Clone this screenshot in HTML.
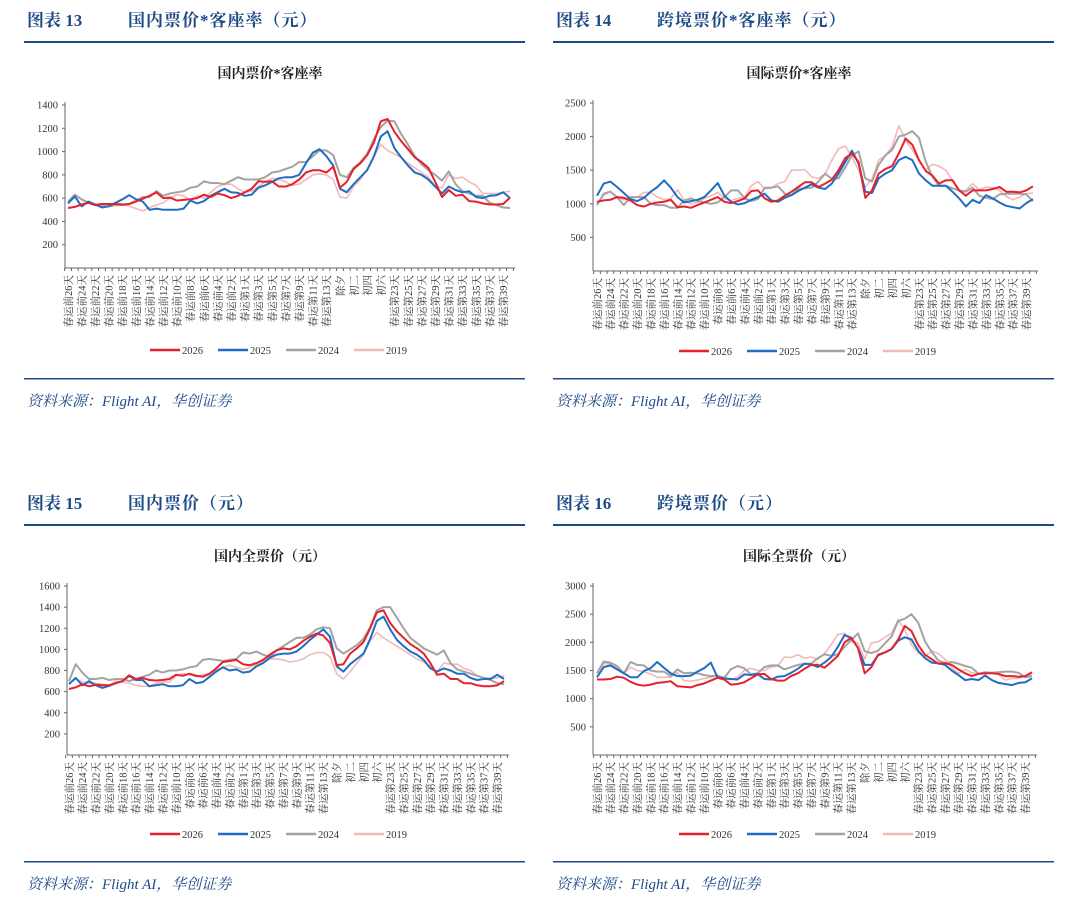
<!DOCTYPE html>
<html><head><meta charset="utf-8"><style>
body{margin:0;background:#fff;width:1080px;height:899px;overflow:hidden}
svg{display:block}
</style></head><body>
<svg id="root" width="1080" height="899" xmlns="http://www.w3.org/2000/svg"></svg>
<script>
const xLabels = ["春运前26天","春运前24天","春运前22天","春运前20天","春运前18天","春运前16天","春运前14天","春运前12天","春运前10天","春运前8天","春运前6天","春运前4天","春运前2天","春运第1天","春运第3天","春运第5天","春运第7天","春运第9天","春运第11天","春运第13天","除夕","初二","初四","初六","春运第23天","春运第25天","春运第27天","春运第29天","春运第31天","春运第33天","春运第35天","春运第37天","春运第39天"];
const seriesNames = ["2026","2025","2024","2019"];

const c1_2026 = [515,525,545,560,540,550,550,550,545,550,570,595,620,650,600,605,580,585,590,600,630,610,640,625,600,620,650,680,745,740,745,700,700,720,760,820,840,840,820,870,690,740,850,900,970,1080,1260,1280,1170,1090,1020,950,910,860,740,610,670,620,630,575,570,555,545,545,550,605];
const c1_2025 = [555,615,530,570,545,520,530,560,590,625,590,570,500,510,500,500,500,510,580,555,575,620,650,680,650,645,620,630,690,710,740,770,780,780,800,900,990,1020,960,880,680,650,720,780,840,960,1130,1175,1030,950,880,820,800,760,700,640,700,670,650,660,610,600,620,625,650,600];
const c1_2024 = [570,630,590,560,540,530,530,540,540,550,580,610,610,660,620,640,650,660,690,700,745,730,730,720,750,780,760,760,760,780,820,830,850,870,910,910,960,1010,1010,970,800,780,860,910,980,1110,1210,1265,1260,1150,1060,960,890,840,800,750,830,720,660,640,620,620,560,540,520,515];
const c1_2019 = [560,620,590,560,550,550,540,550,550,530,510,490,520,540,560,600,630,620,580,620,600,650,700,720,720,680,650,660,700,740,770,760,740,710,720,760,800,810,800,760,610,600,700,760,850,960,1060,1010,980,950,900,860,820,780,700,690,800,770,780,740,710,640,640,640,650,660];

const c2_2026 = [1030,1050,1060,1100,1090,1050,980,960,1000,1020,1030,1060,950,960,940,980,1020,1060,1100,1030,1010,1040,1080,1190,1200,1080,1030,1050,1120,1180,1250,1320,1320,1250,1300,1360,1500,1680,1750,1620,1090,1200,1450,1520,1560,1750,1970,1880,1650,1490,1420,1300,1350,1350,1200,1120,1200,1200,1200,1220,1250,1180,1180,1170,1200,1260];
const c2_2025 = [1120,1300,1330,1250,1160,1070,1040,1090,1180,1250,1350,1240,1100,1020,1040,1060,1100,1200,1310,1120,1030,990,1010,1060,1100,1150,1050,1030,1090,1130,1190,1240,1290,1240,1220,1300,1450,1620,1790,1600,1180,1160,1380,1450,1500,1650,1700,1650,1450,1350,1270,1270,1270,1180,1080,960,1060,1010,1130,1080,1020,970,950,930,1010,1070];
const c2_2024 = [980,1150,1180,1100,980,1100,1100,1100,1000,980,980,940,940,1050,1080,1040,1020,1000,1020,1100,1200,1200,1080,1040,1070,1240,1240,1260,1150,1130,1220,1230,1240,1330,1450,1370,1380,1540,1720,1780,1380,1330,1580,1720,1800,2000,2030,2080,1980,1630,1400,1270,1270,1230,1200,1180,1240,1120,1090,1070,1140,1150,1150,1150,1140,1040];
const c2_2019 = [1000,1130,1180,1100,1060,1080,1100,1170,1170,1100,1060,1080,1210,1050,1000,1020,1080,1120,1170,1080,1050,1080,1100,1270,1330,1220,1240,1300,1330,1500,1500,1510,1400,1380,1440,1650,1820,1860,1700,1500,1250,1370,1650,1720,1850,2160,1950,1800,1640,1500,1590,1560,1500,1350,1180,1200,1300,1210,1250,1240,1200,1110,1060,1100,1150,1160];

const c3_2026 = [625,640,670,650,665,660,660,680,700,755,720,730,710,705,710,720,760,750,770,750,740,770,820,880,890,900,860,850,870,900,950,990,1010,1000,1030,1080,1120,1150,1130,1060,850,860,960,1010,1070,1200,1350,1370,1250,1170,1110,1050,1010,960,870,760,770,720,720,680,680,660,650,650,660,700];
const c3_2025 = [670,730,660,700,660,635,655,680,700,750,710,710,650,660,670,650,650,660,720,680,690,740,790,830,800,810,780,790,840,870,920,950,960,960,980,1030,1090,1140,1190,1120,840,790,860,910,960,1100,1270,1310,1190,1090,1030,980,950,900,820,790,820,800,770,770,730,710,720,720,760,720];
const c3_2024 = [700,860,780,720,720,730,710,720,720,700,720,740,760,800,780,800,800,810,830,840,900,910,900,890,900,910,970,960,980,950,930,990,1030,1070,1110,1110,1140,1190,1210,1200,1010,960,1000,1040,1100,1210,1370,1400,1400,1300,1200,1110,1060,1010,980,950,990,870,810,790,770,750,730,710,680,670];
const c3_2019 = [680,720,690,680,680,670,660,700,690,680,660,650,650,680,690,690,750,770,760,740,760,770,800,830,850,830,810,830,860,880,910,910,900,880,890,910,950,970,970,930,770,720,790,870,950,1080,1160,1110,1070,1030,990,950,910,880,840,790,870,860,860,820,800,750,730,730,730,750];

const c4_2026 = [1340,1340,1350,1390,1370,1300,1250,1230,1250,1280,1290,1310,1220,1210,1200,1240,1270,1320,1370,1340,1250,1260,1290,1360,1430,1440,1350,1320,1320,1400,1450,1530,1600,1600,1550,1650,1760,2000,2080,1900,1450,1560,1780,1820,1880,2050,2290,2200,1950,1780,1700,1620,1630,1600,1520,1450,1400,1440,1450,1450,1440,1400,1400,1390,1400,1470];
const c4_2025 = [1380,1560,1590,1520,1450,1380,1380,1490,1540,1650,1550,1450,1400,1400,1410,1480,1540,1640,1380,1360,1350,1340,1430,1420,1440,1350,1340,1390,1400,1460,1530,1620,1610,1560,1640,1740,1920,2130,2080,1900,1600,1600,1770,1820,1880,2030,2090,2050,1850,1720,1640,1630,1600,1500,1420,1330,1350,1330,1410,1330,1280,1260,1240,1280,1290,1360];
const c4_2024 = [1450,1660,1640,1580,1450,1650,1600,1590,1500,1480,1480,1400,1520,1450,1460,1450,1420,1400,1410,1370,1520,1580,1540,1430,1450,1560,1590,1590,1520,1560,1600,1620,1620,1720,1790,1760,1790,1920,2040,2160,1840,1810,1850,1980,2100,2380,2420,2500,2350,2020,1830,1680,1630,1650,1620,1580,1550,1440,1470,1460,1470,1480,1480,1460,1380,1400];
const c4_2019 = [1450,1620,1620,1560,1440,1560,1500,1480,1440,1380,1380,1380,1470,1320,1310,1330,1360,1380,1410,1350,1340,1380,1500,1540,1500,1500,1560,1580,1740,1730,1780,1720,1740,1700,1800,1960,2140,2160,2010,1990,1700,1990,2010,2090,2160,2400,2220,1960,1810,1740,1850,1800,1700,1550,1450,1520,1460,1440,1440,1460,1430,1330,1360,1360,1400,1420];

const c1Ticks = [200,400,600,800,1000,1200,1400];
const c2Ticks = [500,1000,1500,2000,2500];
const c3Ticks = [200,400,600,800,1000,1200,1400,1600];
const c4Ticks = [500,1000,1500,2000,2500,3000];

const NS="http://www.w3.org/2000/svg";
const root=document.getElementById('root');
const COLORS=["#e5212b","#1f6dc4","#a3a3a3","#f2b9b9"];
const WIDTHS=[2,2,2,1.6];
const SERIF='"Liberation Serif","Noto Serif CJK SC",serif';
function mk(tag,attrs,parent){const e=document.createElementNS(NS,tag);for(const k in attrs)e.setAttribute(k,attrs[k]);(parent||root).appendChild(e);return e;}
function txt(s,attrs,parent){const e=mk('text',attrs,parent);e.textContent=s;return e;}

function panel(ox,oy,num,heading,ctitle,g){
  const grp=mk('g',{});
  
  
  let t=txt('图表 '+num,{x:ox+3,y:oy+26,'font-size':17,'font-weight':'bold',fill:'#1c4a86','font-family':SERIF},grp);
  
  
  t=txt(heading,{x:ox+104,y:oy+26,'font-size':17,'font-weight':'bold',fill:'#1c4a86','font-family':SERIF,'letter-spacing':'1'},grp);
  
  
  let r=mk('rect',{x:ox,y:oy+41,width:501,height:2,fill:'#1c4a86'},grp);
  
  
  t=txt(ctitle,{x:ox+246,y:oy+78,'font-size':14,'text-anchor':'middle',fill:'#222','font-family':SERIF,'font-weight':'bold'},grp);
  
  
  r=mk('rect',{x:ox,y:oy+378,width:501,height:1.5,fill:'#1c4a86'},grp);
  
  
  t=txt('资料来源：Flight AI，华创证券',{x:ox+3,y:oy+406,'font-size':15,'font-style':'italic',fill:'#1c4a86','font-family':SERIF},grp);
  
  

  const ax=g.ax, x0=g.x0, x1=g.x1, yTop=g.yTop, y0=g.y0, vmax=g.vmax;
  const n=66;
  const xS=i=>x0+(x1-x0)*i/(n-1);
  const yS=v=>y0-(y0-yTop)*v/vmax;
  let l=mk('line',{x1:ax,y1:yTop-3,x2:ax,y2:y0,stroke:'#666','stroke-width':1},grp);
  
  
  l=mk('line',{x1:ax,y1:y0,x2:x1+5,y2:y0,stroke:'#666','stroke-width':1},grp);
  
  
  g.ticks.forEach(v=>{
    const y=yS(v);
    mk('line',{x1:ax-3,y1:y,x2:ax,y2:y,stroke:'#666'},grp);
    const tl=txt(String(v),{x:ax-7,y:y+3.5,'font-size':10.5,'text-anchor':'end',fill:'#333','font-family':SERIF},grp);
    
    
  });
  for(let i=0;i<=n;i++){
    const x=x0+(x1-x0)*(i-0.5)/(n-1);
    mk('line',{x1:x,y1:y0,x2:x,y2:y0+3,stroke:'#666'},grp);
  }
  xLabels.forEach((s,k)=>{
    const x=xS(k*2)+3.8, y=y0+7;
    const tl=txt(s,{x:x,y:y,'font-size':10.5,'text-anchor':'end',fill:'#333','font-family':SERIF,transform:'rotate(-90 '+x+' '+y+')'},grp);
    
    
  });
  [3,2,1,0].forEach(si=>{
    const d=g.data[si].map((v,i)=>(i?'L':'M')+xS(i).toFixed(1)+' '+yS(v).toFixed(1)).join(' ');
    const p=mk('path',{d:d,fill:'none',stroke:COLORS[si],'stroke-width':WIDTHS[si],'stroke-linejoin':'round'},grp);
    
    
  });
  const ly=g.ly, lx=ox+126;
  seriesNames.forEach((nm,si)=>{
    const bx=lx+si*68;
    const lg=mk('g',{},grp);
    
    
    mk('line',{x1:bx,y1:ly,x2:bx+30,y2:ly,stroke:COLORS[si],'stroke-width':2.5},lg);
    txt(nm,{x:bx+32,y:ly+4,'font-size':10.5,fill:'#333','font-family':SERIF},lg);
  });
}

panel(24,0,'13','国内票价*客座率（元）','国内票价*客座率',
 {ax:65,x0:68,x1:510,yTop:105,y0:268,vmax:1400,ticks:c1Ticks,ly:350,data:[c1_2026,c1_2025,c1_2024,c1_2019]});
panel(553,0,'14','跨境票价*客座率（元）','国际票价*客座率',
 {ax:593,x0:597,x1:1033,yTop:103,y0:271,vmax:2500,ticks:c2Ticks,ly:351,data:[c2_2026,c2_2025,c2_2024,c2_2019]});
panel(24,483,'15','国内票价（元）','国内全票价（元）',
 {ax:67,x0:69,x1:504,yTop:586,y0:755,vmax:1600,ticks:c3Ticks,ly:834,data:[c3_2026,c3_2025,c3_2024,c3_2019]});
panel(553,483,'16','跨境票价（元）','国际全票价（元）',
 {ax:593,x0:597,x1:1032,yTop:586,y0:755,vmax:3000,ticks:c4Ticks,ly:834,data:[c4_2026,c4_2025,c4_2024,c4_2019]});
</script>
</body></html>
